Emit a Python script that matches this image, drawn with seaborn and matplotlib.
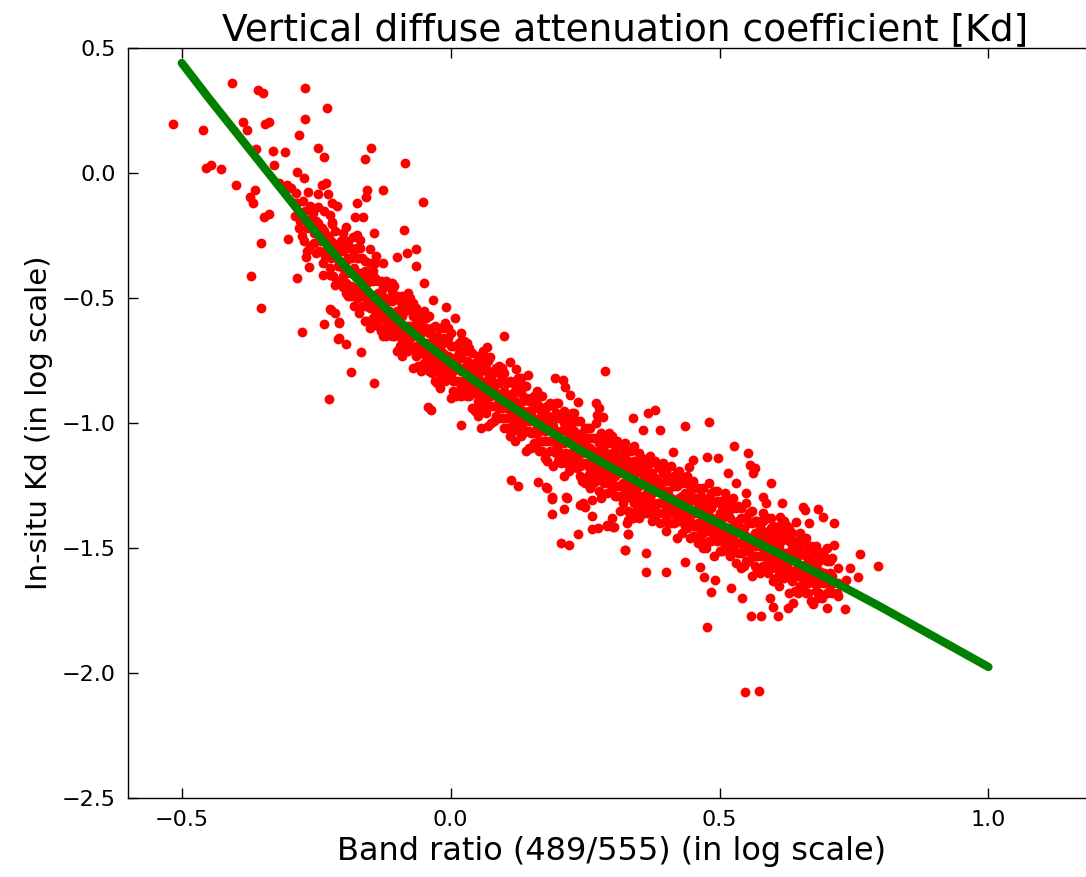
import numpy as np
import pandas as pd
import matplotlib
matplotlib.use("Agg")
import matplotlib.pyplot as plt
import seaborn as sns

sns.set_style("ticks", {"xtick.direction": "in", "ytick.direction": "in"})
plt.rcParams["font.family"] = ["DejaVu Sans"]
plt.rcParams["text.color"] = "black"
plt.rcParams["axes.labelcolor"] = "black"
plt.rcParams["xtick.color"] = "black"
plt.rcParams["ytick.color"] = "black"
plt.rcParams["axes.edgecolor"] = "black"

# fitted curve
fit_x = [-0.5, -0.45, -0.4, -0.35, -0.3, -0.25, -0.2, -0.15, -0.1, -0.05, 0.0, 0.05, 0.1,
         0.15, 0.2, 0.25, 0.3, 0.35, 0.4, 0.45, 0.5, 0.6, 0.7, 0.8, 0.9, 1.0]
fit_y = [0.44, 0.30, 0.165, 0.03, -0.105, -0.24, -0.365, -0.48, -0.585, -0.677, -0.76,
         -0.84, -0.915, -0.987, -1.055, -1.12, -1.18, -1.238, -1.295, -1.35, -1.403,
         -1.511, -1.621, -1.736, -1.856, -1.976]

# scattered points (outside the dense band)
upper_left_pts = [
    (-0.517, 0.196), (-0.461, 0.172), (-0.406, 0.359), (-0.358, 0.332), (-0.349, 0.321),
    (-0.270, 0.339), (-0.230, 0.259), (-0.386, 0.203), (-0.378, 0.172), (-0.345, 0.196),
    (-0.337, 0.203), (-0.270, 0.215), (-0.282, 0.152), (-0.362, 0.096), (-0.331, 0.088),
    (-0.328, 0.032), (-0.308, 0.083), (-0.247, 0.101), (-0.236, 0.065), (-0.148, 0.101),
    (-0.159, 0.055), (-0.085, 0.039), (-0.052, -0.117), (-0.455, 0.021), (-0.446, 0.032),
    (-0.427, 0.015), (-0.400, -0.048), (-0.373, -0.095), (-0.368, -0.121), (-0.364, -0.068),
    (-0.285, 0.003), (-0.273, -0.021), (-0.319, -0.041), (-0.304, -0.048), (-0.296, -0.061),
    (-0.265, -0.075), (-0.246, -0.085), (-0.229, -0.085), (-0.240, -0.048), (-0.232, -0.041),
    (-0.291, -0.121), (-0.246, -0.135), (-0.220, -0.121), (-0.212, -0.132), (-0.174, -0.121),
    (-0.158, -0.097), (-0.156, -0.068), (-0.126, -0.068), (-0.347, -0.177), (-0.338, -0.164),
    (-0.279, -0.161), (-0.256, -0.161), (-0.260, -0.195), (-0.225, -0.168), (-0.220, -0.195),
    (-0.221, -0.205), (-0.194, -0.215), (-0.177, -0.177), (-0.163, -0.177), (-0.087, -0.228),
    (-0.352, -0.279), (-0.302, -0.265), (-0.268, -0.311), (-0.269, -0.335), (-0.263, -0.375),
    (-0.225, -0.281), (-0.220, -0.275), (-0.206, -0.308), (-0.181, -0.255), (-0.175, -0.248),
    (-0.169, -0.268), (-0.182, -0.308), (-0.169, -0.301), (-0.150, -0.305), (-0.142, -0.239),
    (-0.138, -0.332), (-0.125, -0.359), (-0.099, -0.335), (-0.082, -0.321), (-0.064, -0.305),
    (-0.064, -0.372), (-0.049, -0.441), (-0.032, -0.508), (-0.009, -0.535), (0.008, -0.581),
    (0.020, -0.641), (-0.371, -0.411), (-0.352, -0.541), (-0.285, -0.421), (-0.276, -0.635),
    (-0.237, -0.408), (-0.225, -0.408), (-0.215, -0.448), (-0.200, -0.455), (-0.236, -0.604),
    (-0.225, -0.545), (-0.208, -0.601), (-0.208, -0.661), (-0.226, -0.905), (-0.186, -0.797),
    (-0.143, -0.839), (-0.166, -0.717), (-0.209, -0.665), (-0.194, -0.684), (-0.223, -0.548),
    (-0.215, -0.561), (-0.207, -0.595), (-0.042, -0.935), (-0.037, -0.948), (0.020, -1.008),
    (0.057, -1.021),
    (-0.285, -0.12), (-0.28, -0.19), (-0.276, -0.25), (-0.27, -0.15), (-0.268, -0.22),
    (-0.262, -0.29), (-0.258, -0.18), (-0.255, -0.24), (-0.25, -0.32), (-0.246, -0.20),
    (-0.242, -0.27), (-0.238, -0.36), (-0.235, -0.23), (-0.23, -0.30), (-0.226, -0.26),
    (-0.222, -0.34), (-0.218, -0.41), (-0.214, -0.29), (-0.21, -0.37), (-0.205, -0.31),
    (-0.29, -0.17), (-0.288, -0.08), (-0.282, -0.22), (-0.275, -0.11), (-0.272, -0.27),
    (-0.265, -0.20), (-0.262, -0.13), (-0.255, -0.28), (-0.25, -0.19), (-0.245, -0.31),
    (-0.24, -0.22), (-0.236, -0.15), (-0.233, -0.33), (-0.228, -0.25), (-0.224, -0.38),
    (-0.22, -0.29), (-0.216, -0.23), (-0.212, -0.43), (-0.208, -0.35), (-0.204, -0.27),
]
middle_pts = [
    (0.099, -0.652), (0.067, -0.695), (0.057, -0.735), (0.073, -0.735), (0.110, -0.755),
    (0.122, -0.785), (0.144, -0.808), (0.194, -0.821), (0.209, -0.828), (0.287, -0.791),
    (0.222, -0.888), (0.237, -0.915), (0.271, -0.921), (0.276, -0.941), (0.367, -0.961),
    (0.380, -0.948), (0.339, -0.981), (0.358, -1.028), (0.390, -1.028), (0.435, -1.011),
    (0.283, -0.975), (0.212, -0.855), (0.273, -0.968), (0.451, -1.148), (0.443, -1.177),
    (0.414, -1.115), (0.113, -1.228), (0.125, -1.252), (0.163, -1.235), (0.178, -1.257),
    (0.215, -1.295), (0.189, -1.295), (0.179, -1.259), (0.189, -1.304), (0.217, -1.301),
    (0.189, -1.364), (0.211, -1.345), (0.240, -1.328), (0.250, -1.335), (0.263, -1.372),
    (0.237, -1.444), (0.206, -1.481), (0.220, -1.489), (0.262, -1.425), (0.274, -1.421),
    (0.290, -1.411), (0.303, -1.415), (0.300, -1.381), (0.314, -1.351), (0.330, -1.388),
    (0.339, -1.381), (0.327, -1.401), (0.330, -1.444), (0.324, -1.508), (0.262, -1.308),
    (0.246, -1.321),
]
right_pts = [
    (0.480, -0.997), (0.527, -1.091), (0.553, -1.121), (0.556, -1.168), (0.565, -1.181),
    (0.562, -1.201), (0.476, -1.135), (0.497, -1.141), (0.516, -1.201), (0.596, -1.241),
    (0.531, -1.241), (0.550, -1.281), (0.581, -1.295), (0.587, -1.321), (0.617, -1.321),
    (0.655, -1.335), (0.658, -1.348), (0.683, -1.345), (0.692, -1.375), (0.713, -1.401),
    (0.666, -1.401), (0.643, -1.395), (0.612, -1.375), (0.713, -1.488), (0.692, -1.515),
    (0.761, -1.524), (0.795, -1.571), (0.742, -1.581), (0.736, -1.628), (0.758, -1.615),
    (0.719, -1.681), (0.733, -1.745), (0.477, -1.815), (0.547, -2.075), (0.573, -2.071),
    (0.559, -1.771), (0.577, -1.771), (0.609, -1.771), (0.627, -1.741), (0.637, -1.721),
    (0.674, -1.724), (0.699, -1.741), (0.683, -1.701), (0.541, -1.701), (0.522, -1.659),
    (0.485, -1.677), (0.593, -1.701), (0.600, -1.735), (0.364, -1.595), (0.400, -1.595),
    (0.324, -1.508), (0.435, -1.555), (0.364, -1.521), (0.302, -1.415), (0.330, -1.445),
    (0.290, -1.408), (0.463, -1.575), (0.472, -1.615), (0.491, -1.628),
]

# dense band, first layer: one x per column, the y values stacked in it
band_x = [
    -0.20, -0.19, -0.18, -0.17, -0.16, -0.15, -0.14, -0.13, -0.12, -0.11,
    -0.10, -0.09, -0.08, -0.07, -0.06, -0.05, -0.04, -0.03, -0.02, -0.01,
    0.00, 0.01, 0.02, 0.03, 0.04, 0.05, 0.06, 0.07, 0.08, 0.09,
    0.10, 0.11, 0.12, 0.13, 0.14, 0.15, 0.16, 0.17, 0.18, 0.19,
    0.20, 0.21, 0.22, 0.23, 0.24, 0.25, 0.26, 0.27, 0.28, 0.29,
    0.30, 0.31, 0.32, 0.33, 0.34, 0.35, 0.36, 0.37, 0.38, 0.39,
    0.40, 0.41, 0.42, 0.43, 0.44, 0.45, 0.46, 0.47, 0.48, 0.49,
    0.50, 0.51, 0.52, 0.53, 0.54, 0.55, 0.56, 0.57, 0.58, 0.59,
    0.60, 0.61, 0.62, 0.63, 0.64, 0.65, 0.66, 0.67, 0.68, 0.69,
    0.70, 0.71, 0.72]
band_y = [
    [-0.24, -0.31, -0.38, -0.45, -0.27, -0.41],
    [-0.34, -0.39, -0.45, -0.49, -0.27],
    [-0.33, -0.40, -0.47, -0.53, -0.38],
    [-0.34, -0.40, -0.48, -0.56, -0.42],
    [-0.35, -0.43, -0.49, -0.53, -0.59, -0.39],
    [-0.41, -0.49, -0.54, -0.36, -0.62],
    [-0.42, -0.49, -0.52, -0.59, -0.36, -0.55],
    [-0.43, -0.50, -0.57, -0.63, -0.48],
    [-0.50, -0.55, -0.61, -0.65, -0.43],
    [-0.44, -0.51, -0.58, -0.65, -0.47, -0.61],
    [-0.49, -0.55, -0.63, -0.71, -0.57],
    [-0.49, -0.57, -0.63, -0.67, -0.73, -0.53],
    [-0.54, -0.61, -0.64, -0.71, -0.48, -0.67],
    [-0.57, -0.65, -0.70, -0.52, -0.78],
    [-0.57, -0.64, -0.71, -0.77, -0.62],
    [-0.55, -0.62, -0.69, -0.76, -0.58, -0.72],
    [-0.64, -0.69, -0.75, -0.79, -0.57],
    [-0.61, -0.67, -0.75, -0.83, -0.69],
    [-0.62, -0.70, -0.76, -0.80, -0.86, -0.66],
    [-0.66, -0.73, -0.76, -0.83, -0.60, -0.79],
    [-0.69, -0.77, -0.82, -0.64, -0.90],
    [-0.69, -0.76, -0.83, -0.89, -0.74],
    [-0.74, -0.79, -0.85, -0.89, -0.67],
    [-0.68, -0.75, -0.82, -0.89, -0.71, -0.85],
    [-0.72, -0.78, -0.86, -0.94, -0.80],
    [-0.73, -0.81, -0.87, -0.91, -0.97, -0.77],
    [-0.77, -0.84, -0.87, -0.94, -0.71, -0.90],
    [-0.80, -0.88, -0.93, -0.75, -1.01],
    [-0.79, -0.86, -0.93, -0.99, -0.84],
    [-0.77, -0.84, -0.91, -0.98, -0.80, -0.94],
    [-0.87, -0.92, -0.98, -1.02, -0.80],
    [-0.83, -0.89, -0.97, -1.05, -0.91],
    [-0.83, -0.91, -0.97, -1.01, -1.07, -0.87],
    [-0.88, -0.95, -0.98, -1.05, -0.82, -1.01],
    [-0.90, -0.98, -1.03, -0.85, -1.11],
    [-0.90, -0.97, -1.04, -1.10, -0.95],
    [-0.87, -0.94, -1.01, -1.08, -0.90, -1.04],
    [-0.96, -1.01, -1.07, -1.11, -0.89],
    [-0.93, -0.99, -1.07, -1.15, -1.01],
    [-0.93, -1.01, -1.07, -1.11, -1.17, -0.97],
    [-0.98, -1.05, -1.08, -1.15, -0.92, -1.11],
    [-1.00, -1.08, -1.13, -0.95, -1.21],
    [-0.99, -1.06, -1.13, -1.19, -1.04],
    [-0.96, -1.03, -1.10, -1.17, -0.99, -1.13],
    [-1.06, -1.11, -1.17, -1.21, -0.99],
    [-1.02, -1.08, -1.16, -1.24, -1.10],
    [-1.02, -1.10, -1.16, -1.20, -1.26, -1.06],
    [-1.06, -1.13, -1.16, -1.23, -1.00, -1.19],
    [-1.09, -1.17, -1.22, -1.04, -1.30],
    [-1.08, -1.15, -1.22, -1.28, -1.13],
    [-1.05, -1.12, -1.19, -1.26, -1.08, -1.22],
    [-1.14, -1.19, -1.25, -1.29, -1.07],
    [-1.10, -1.16, -1.24, -1.32, -1.18],
    [-1.11, -1.19, -1.25, -1.29, -1.35, -1.15],
    [-1.15, -1.22, -1.25, -1.32, -1.09, -1.28],
    [-1.17, -1.25, -1.30, -1.12, -1.38],
    [-1.16, -1.23, -1.30, -1.36, -1.21],
    [-1.13, -1.20, -1.27, -1.34, -1.16, -1.30],
    [-1.22, -1.27, -1.33, -1.37, -1.15],
    [-1.18, -1.24, -1.32, -1.40, -1.26],
    [-1.19, -1.27, -1.33, -1.37, -1.43, -1.23],
    [-1.23, -1.30, -1.33, -1.40, -1.17, -1.36],
    [-1.25, -1.33, -1.38, -1.20, -1.46],
    [-1.24, -1.31, -1.38, -1.44, -1.29],
    [-1.21, -1.28, -1.35, -1.42, -1.24, -1.38],
    [-1.30, -1.35, -1.41, -1.45, -1.23],
    [-1.26, -1.32, -1.40, -1.48, -1.34],
    [-1.26, -1.34, -1.40, -1.44, -1.50, -1.30],
    [-1.30, -1.37, -1.40, -1.47, -1.24, -1.43],
    [-1.32, -1.40, -1.45, -1.27, -1.53],
    [-1.31, -1.38, -1.45, -1.51, -1.36],
    [-1.28, -1.35, -1.42, -1.49, -1.31, -1.45],
    [-1.38, -1.43, -1.49, -1.53, -1.31],
    [-1.34, -1.40, -1.48, -1.56, -1.42],
    [-1.34, -1.42, -1.48, -1.52, -1.58, -1.38],
    [-1.38, -1.45, -1.48, -1.55, -1.32, -1.51],
    [-1.40, -1.48, -1.53, -1.35, -1.61],
    [-1.39, -1.46, -1.53, -1.59, -1.44],
    [-1.36, -1.43, -1.50, -1.57, -1.39, -1.53],
    [-1.45, -1.50, -1.56, -1.60, -1.38],
    [-1.41, -1.47, -1.55, -1.63, -1.49],
    [-1.41, -1.49, -1.55, -1.59, -1.65, -1.45],
    [-1.45, -1.52, -1.55, -1.62, -1.39, -1.58],
    [-1.47, -1.55, -1.60, -1.42, -1.68],
    [-1.47, -1.54, -1.61, -1.67, -1.52],
    [-1.44, -1.51, -1.58, -1.65, -1.47, -1.61],
    [-1.53, -1.58, -1.64, -1.68, -1.46],
    [-1.49, -1.55, -1.63, -1.71, -1.57],
    [-1.49, -1.57, -1.63, -1.67, -1.60],
    [-1.53, -1.60, -1.63, -1.70],
    [-1.55, -1.63, -1.68, -1.50],
    [-1.54, -1.61, -1.68],
    [-1.58, -1.64, -1.69],
]

# dense band, second layer, columns between the first ones
band2_x = [
    -0.195, -0.185, -0.175, -0.165, -0.155, -0.145, -0.135, -0.125, -0.115, -0.105,
    -0.095, -0.085, -0.075, -0.065, -0.055, -0.045, -0.035, -0.025, -0.015, -0.005,
    0.005, 0.015, 0.025, 0.035, 0.045, 0.055, 0.065, 0.075, 0.085, 0.095,
    0.105, 0.115, 0.125, 0.135, 0.145, 0.155, 0.165, 0.175, 0.185, 0.195,
    0.205, 0.215, 0.225, 0.235, 0.245, 0.255, 0.265, 0.275, 0.285, 0.295,
    0.305, 0.315, 0.325, 0.335, 0.345, 0.355, 0.365, 0.375, 0.385, 0.395,
    0.405, 0.415, 0.425, 0.435, 0.445, 0.455, 0.465, 0.475, 0.485, 0.495,
    0.505, 0.515, 0.525, 0.535, 0.545, 0.555, 0.565, 0.575, 0.585, 0.595,
    0.605, 0.615, 0.625, 0.635, 0.645, 0.655, 0.665, 0.675, 0.685, 0.695,
    0.705]
band2_y = [
    [-0.30, -0.35, -0.40, -0.44, -0.48],
    [-0.30, -0.34, -0.40, -0.45, -0.49],
    [-0.34, -0.41, -0.46, -0.50, -0.30],
    [-0.40, -0.44, -0.49, -0.53, -0.34],
    [-0.44, -0.48, -0.52, -0.40, -0.59],
    [-0.39, -0.43, -0.49, -0.54, -0.58],
    [-0.43, -0.48, -0.53, -0.57, -0.61],
    [-0.50, -0.54, -0.58, -0.46, -0.65],
    [-0.51, -0.55, -0.60, -0.64, -0.45],
    [-0.49, -0.56, -0.61, -0.65, -0.45],
    [-0.51, -0.56, -0.61, -0.65, -0.69],
    [-0.51, -0.55, -0.61, -0.66, -0.70],
    [-0.54, -0.61, -0.66, -0.70, -0.50],
    [-0.60, -0.64, -0.69, -0.73, -0.54],
    [-0.64, -0.68, -0.72, -0.60, -0.79],
    [-0.58, -0.62, -0.68, -0.73, -0.77],
    [-0.62, -0.67, -0.72, -0.76, -0.80],
    [-0.69, -0.73, -0.77, -0.65, -0.84],
    [-0.68, -0.72, -0.77, -0.81, -0.62],
    [-0.66, -0.73, -0.78, -0.82, -0.62],
    [-0.69, -0.74, -0.79, -0.83, -0.87],
    [-0.68, -0.72, -0.78, -0.83, -0.87],
    [-0.71, -0.78, -0.83, -0.87, -0.67],
    [-0.76, -0.80, -0.85, -0.89, -0.70],
    [-0.80, -0.84, -0.88, -0.76, -0.95],
    [-0.75, -0.79, -0.85, -0.90, -0.94],
    [-0.78, -0.83, -0.88, -0.92, -0.96],
    [-0.85, -0.89, -0.93, -0.81, -1.00],
    [-0.84, -0.88, -0.93, -0.97, -0.78],
    [-0.82, -0.89, -0.94, -0.98, -0.78],
    [-0.84, -0.89, -0.94, -0.98, -1.02],
    [-0.84, -0.88, -0.94, -0.99, -1.03],
    [-0.86, -0.93, -0.98, -1.02, -0.82],
    [-0.91, -0.95, -1.00, -1.04, -0.85],
    [-0.95, -0.99, -1.03, -0.91, -1.10],
    [-0.89, -0.93, -0.99, -1.04, -1.08],
    [-0.93, -0.98, -1.03, -1.07, -1.11],
    [-0.99, -1.03, -1.07, -0.95, -1.14],
    [-0.98, -1.02, -1.07, -1.11, -0.92],
    [-0.96, -1.03, -1.08, -1.12, -0.92],
    [-0.98, -1.03, -1.08, -1.12, -1.16],
    [-0.97, -1.01, -1.07, -1.12, -1.16],
    [-1.00, -1.07, -1.12, -1.16, -0.96],
    [-1.05, -1.09, -1.14, -1.18, -0.99],
    [-1.08, -1.12, -1.16, -1.04, -1.23],
    [-1.02, -1.06, -1.12, -1.17, -1.21],
    [-1.06, -1.11, -1.16, -1.20, -1.24],
    [-1.12, -1.16, -1.20, -1.08, -1.27],
    [-1.11, -1.15, -1.20, -1.24, -1.05],
    [-1.08, -1.15, -1.20, -1.24, -1.04],
    [-1.11, -1.16, -1.21, -1.25, -1.29],
    [-1.10, -1.14, -1.20, -1.25, -1.29],
    [-1.12, -1.19, -1.24, -1.28, -1.08],
    [-1.17, -1.21, -1.26, -1.30, -1.11],
    [-1.20, -1.24, -1.28, -1.16, -1.35],
    [-1.14, -1.18, -1.24, -1.29, -1.33],
    [-1.18, -1.23, -1.28, -1.32, -1.36],
    [-1.24, -1.28, -1.32, -1.20, -1.39],
    [-1.23, -1.27, -1.32, -1.36, -1.17],
    [-1.20, -1.27, -1.32, -1.36, -1.16],
    [-1.22, -1.27, -1.32, -1.36, -1.40],
    [-1.21, -1.25, -1.31, -1.36, -1.40],
    [-1.23, -1.30, -1.35, -1.39, -1.19],
    [-1.28, -1.32, -1.37, -1.41, -1.22],
    [-1.31, -1.35, -1.39, -1.27, -1.46],
    [-1.26, -1.30, -1.36, -1.41, -1.45],
    [-1.29, -1.34, -1.39, -1.43, -1.47],
    [-1.35, -1.39, -1.43, -1.31, -1.50],
    [-1.34, -1.38, -1.43, -1.47, -1.28],
    [-1.31, -1.38, -1.43, -1.47, -1.27],
    [-1.33, -1.38, -1.43, -1.47, -1.51],
    [-1.32, -1.36, -1.42, -1.47, -1.51],
    [-1.34, -1.41, -1.46, -1.50, -1.30],
    [-1.39, -1.43, -1.48, -1.52, -1.33],
    [-1.42, -1.46, -1.50, -1.38, -1.57],
    [-1.36, -1.40, -1.46, -1.51, -1.55],
    [-1.39, -1.44, -1.49, -1.53, -1.57],
    [-1.45, -1.49, -1.53, -1.41, -1.60],
    [-1.44, -1.48, -1.53, -1.57, -1.38],
    [-1.42, -1.49, -1.54, -1.58, -1.38],
    [-1.44, -1.49, -1.54, -1.58, -1.62],
    [-1.43, -1.47, -1.53, -1.58, -1.62],
    [-1.45, -1.52, -1.57, -1.61, -1.41],
    [-1.50, -1.54, -1.59, -1.63, -1.44],
    [-1.53, -1.57, -1.61, -1.49, -1.68],
    [-1.47, -1.51, -1.57, -1.62, -1.66],
    [-1.50, -1.55, -1.60, -1.64, -1.68],
    [-1.56, -1.60, -1.64, -1.52],
    [-1.55, -1.59, -1.64, -1.68],
    [-1.53, -1.60, -1.64],
    [-1.55, -1.60, -1.65],
]

rows = []
for xs, ys_cols in [(band_x, band_y), (band2_x, band2_y)]:
    for x, ys in zip(xs, ys_cols):
        for y in ys:
            rows.append((x, y))
rows += upper_left_pts + middle_pts + right_pts
df = pd.DataFrame(rows, columns=["ratio", "kd"])
fit = pd.DataFrame({"ratio": fit_x, "kd": fit_y})

fig = plt.figure(figsize=(10.86, 8.77), dpi=100)
ax = fig.add_axes([128 / 1086, 79 / 877, 968 / 1086, 750 / 877])

sns.scatterplot(data=df, x="ratio", y="kd", color="red", s=50, linewidth=0, ax=ax)
sns.lineplot(data=fit, x="ratio", y="kd", color="green", linewidth=6, sort=False,
             ax=ax, solid_capstyle="round")

ax.set_xlim(-0.6, 1.2)
ax.set_ylim(-2.5, 0.5)
ax.set_xticks([-0.5, 0.0, 0.5, 1.0])
ax.set_yticks([-2.5, -2.0, -1.5, -1.0, -0.5, 0.0, 0.5])
ax.tick_params(top=True, right=True, length=7, width=1, labelsize=16, pad=9)
for sp in ax.spines.values():
    sp.set_visible(True)
    sp.set_linewidth(1.0)
    sp.set_color("black")

ax.set_title("Vertical diffuse attenuation coefficient [Kd]", fontsize=27, pad=6, x=0.514)
ax.set_xlabel("Band ratio (489/555) (in log scale)", fontsize=23, labelpad=4)
ax.set_ylabel("In-situ Kd (in log scale)", fontsize=21, labelpad=6)

fig.savefig("out.png", dpi=100)
